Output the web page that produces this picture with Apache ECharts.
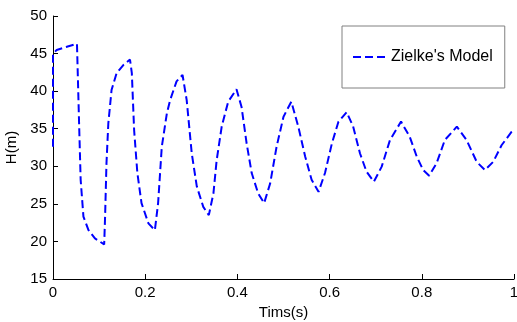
<!DOCTYPE html>
<html>
<head>
<meta charset="utf-8">
<script src="https://cdn.jsdelivr.net/npm/echarts@6/dist/echarts.min.js"></script>
<style>
  html, body { margin: 0; padding: 0; background: #ffffff; }
  #chart { width: 517px; height: 322px; }
</style>
</head>
<body>
<div id="chart"></div>
<script>
// time (s) and head (m)
const timeS = [
  0, 0, 0.008, 0.030, 0.052, 0.057, 0.060, 0.066, 0.077, 0.091,
  0.111, 0.113, 0.116, 0.120, 0.127, 0.138, 0.153, 0.167, 0.171, 0.176,
  0.183, 0.192, 0.207, 0.221, 0.224, 0.228, 0.236, 0.247, 0.254, 0.268,
  0.281, 0.290, 0.301, 0.312, 0.326, 0.338, 0.348, 0.355, 0.366, 0.380,
  0.398, 0.409, 0.420, 0.431, 0.445, 0.458, 0.471, 0.485, 0.500, 0.517,
  0.532, 0.547, 0.561, 0.576, 0.590, 0.605, 0.619, 0.637, 0.651, 0.666,
  0.680, 0.696, 0.713, 0.731, 0.755, 0.774, 0.789, 0.803, 0.816, 0.832,
  0.850, 0.876, 0.897, 0.919, 0.937, 0.955, 0.973, 0.995, 1.000
]
const headM = [
  32.6, 45.0, 45.47, 45.9, 46.3, 34.8, 28.2, 23.3, 21.5, 20.4,
  19.6, 23.3, 30.4, 35.7, 40.15, 42.4, 43.5, 44.2, 42.4, 34.8,
  29.1, 25.1, 22.4, 21.5, 21.4, 25.1, 32.6, 37.05, 38.8, 41.3,
  42.15, 38.8, 31.7, 27.3, 24.6, 23.5, 26.4, 30.8, 35.3, 38.6,
  40.25, 37.9, 33.05, 29.1, 26.4, 25.1, 27.7, 32.6, 36.6, 38.6,
  35.3, 31.3, 28.2, 26.6, 29.1, 33.05, 35.9, 37.2, 35.3, 31.7,
  29.3, 27.95, 29.95, 33.5, 35.95, 33.9, 31.3, 29.5, 28.75, 30.4,
  33.5, 35.27, 33.5, 30.6, 29.5, 30.6, 32.8, 34.6, 34.8
]
const seriesName = "Zielke's Model"

const font = 'Arial, "Liberation Sans", Helvetica, sans-serif'
const chart = echarts.init(document.getElementById('chart'), null, { renderer: 'canvas' })

const axisCommon = {
  axisLine: { show: true, lineStyle: { color: '#000000', width: 1 } },
  axisTick: { show: true, inside: true, length: 5, lineStyle: { color: '#000000' } },
  axisLabel: { color: '#000000', fontSize: 15, fontFamily: font },
  splitLine: { show: false },
  nameTextStyle: { color: '#000000', fontSize: 15, fontFamily: font }
}

chart.setOption({
  backgroundColor: '#ffffff',
  animation: false,
  grid: {
    left: 53, right: 3, top: 16, bottom: 43,
    containLabel: false,
    outerBoundsMode: 'none'
  },
  legend: {
    data: [seriesName],
    left: 342,
    top: 26,
    padding: [23, 12, 23, 10],
    itemWidth: 33,
    itemHeight: 14,
    itemGap: 5,
    backgroundColor: '#ffffff',
    borderColor: '#808080',
    borderWidth: 1,
    // hide the marker dot, keep only the dashed line
    itemStyle: { color: 'rgba(0,0,0,0)', borderWidth: 0, opacity: 0 },
    textStyle: { color: '#000000', fontSize: 16, fontFamily: font }
  },
  xAxis: Object.assign({}, axisCommon, {
    type: 'value',
    min: 0,
    max: 1,
    interval: 0.2,
    name: 'Tims(s)',
    nameLocation: 'middle',
    nameGap: 23,
    axisLabel: Object.assign({}, axisCommon.axisLabel, { margin: 6 })
  }),
  yAxis: Object.assign({}, axisCommon, {
    type: 'value',
    min: 15,
    max: 50,
    interval: 5,
    name: 'H(m)',
    nameLocation: 'middle',
    nameGap: 33,
    axisLabel: Object.assign({}, axisCommon.axisLabel, { margin: 6 })
  }),
  series: [
    {
      name: seriesName,
      type: 'line',
      symbol: 'none',
      smooth: false,
      color: '#0000ff',
      lineStyle: { color: '#0000ff', width: 2, type: [8, 4] },
      data: timeS.map((t, i) => [t, headM[i]])
    }
  ]
})
</script>
</body>
</html>
